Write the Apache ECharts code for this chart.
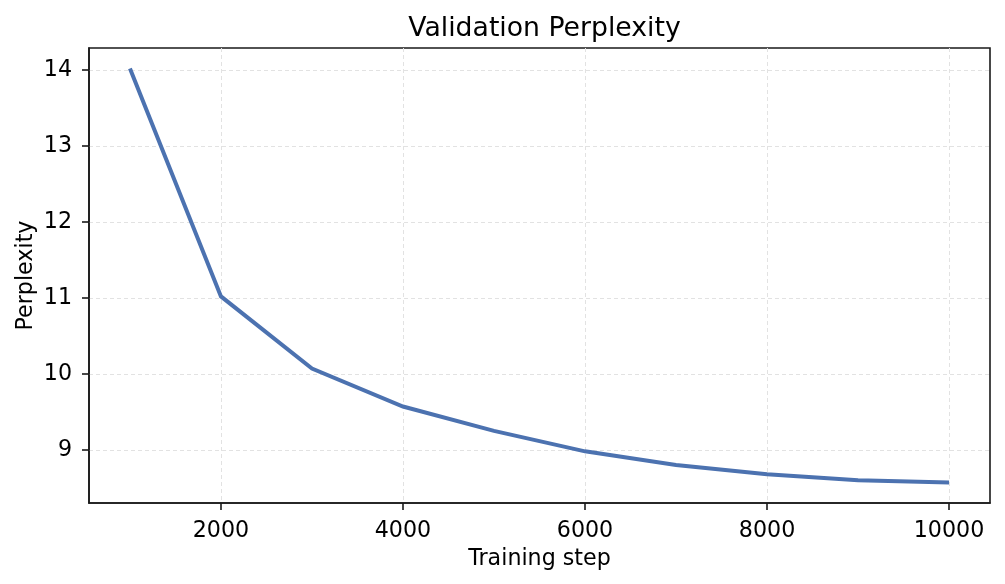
<!DOCTYPE html>
<html>
<head>
<meta charset="utf-8">
<script src="https://cdn.jsdelivr.net/npm/echarts@6/dist/echarts.min.js"></script>
<style>
html,body{margin:0;padding:0;background:#fff;}
#chart{width:1005px;height:584px;}
</style>
</head>
<body>
<div id="chart"></div>
<script>
const steps = [1000, 2000, 3000, 4000, 5000, 6000, 7000, 8000, 9000, 10000];
const perplexity = [14.02, 11.02, 10.07, 9.57, 9.25, 8.98, 8.80, 8.68, 8.60, 8.57];
const xTicks = [2000, 4000, 6000, 8000, 10000];
const yTicks = [9, 10, 11, 12, 13, 14];

const FONT = 'DejaVu Sans';
const chart = echarts.init(document.getElementById('chart'), null, {renderer: 'canvas'});
chart.setOption({
  animation: false,
  backgroundColor: '#ffffff',
  title: {
    text: 'Validation Perplexity',
    left: 539.5,
    textAlign: 'center',
    top: 11,
    textStyle: {fontFamily: FONT, fontSize: 26.7, fontWeight: 'normal', color: '#000'}
  },
  grid: {
    left: 89, right: 15, top: 48, bottom: 81,
    show: true, borderColor: '#1a1a1a', borderWidth: 1.6,
    outerBoundsMode: 'none'
  },
  xAxis: {
    type: 'value',
    min: 550, max: 10450,
    name: 'Training step',
    nameLocation: 'middle',
    nameGap: 45,
    nameMoveOverlap: false,
    nameTextStyle: {fontFamily: FONT, fontSize: 22.2, color: '#000'},
    axisLine: {show: true, lineStyle: {color: '#1a1a1a', width: 1.6}},
    axisTick: {show: true, length: 7, customValues: xTicks, lineStyle: {color: '#1a1a1a', width: 1.6}},
    axisLabel: {customValues: xTicks, margin: 17, fontFamily: FONT, fontSize: 22.2, color: '#000',
      formatter: v => String(v)},
    splitLine: {show: true, lineStyle: {color: '#e2e2e2', width: 1, type: [4, 3]}}
  },
  yAxis: {
    type: 'value',
    min: 8.30, max: 14.29,
    name: 'Perplexity',
    nameLocation: 'middle',
    nameGap: 52,
    nameMoveOverlap: false,
    nameTextStyle: {fontFamily: FONT, fontSize: 22.2, color: '#000'},
    axisLine: {show: true, lineStyle: {color: '#1a1a1a', width: 1.6}},
    axisTick: {show: true, length: 7, customValues: yTicks, lineStyle: {color: '#1a1a1a', width: 1.6}},
    axisLabel: {customValues: yTicks, margin: 17, fontFamily: FONT, fontSize: 22.2, color: '#000',
      formatter: v => String(v)},
    splitLine: {show: true, lineStyle: {color: '#e2e2e2', width: 1, type: [4, 3]}}
  },
  series: [{
    type: 'line',
    data: steps.map((s, i) => [s, perplexity[i]]),
    showSymbol: false,
    symbol: 'none',
    lineStyle: {color: '#4C72B0', width: 4, cap: 'butt', join: 'miter'},
    itemStyle: {color: '#4C72B0'}
  }]
});
</script>
</body>
</html>
